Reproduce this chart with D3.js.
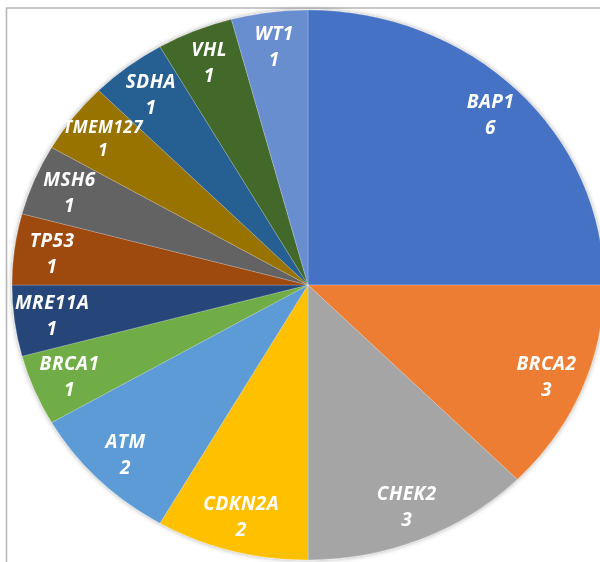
<!DOCTYPE html>
<html>
<head>
<meta charset="utf-8">
<script src="https://cdn.jsdelivr.net/npm/d3@7"></script>
<style>
html,body{margin:0;padding:0;background:#fff;}
svg{display:block;}
</style>
</head>
<body>
<svg id="chart" width="600" height="562"></svg>
<script>
const genes = ["BAP1","BRCA2","CHEK2","CDKN2A","ATM","BRCA1","MRE11A","TP53","MSH6","TMEM127","SDHA","VHL","WT1"];
const counts = [6,3,3,2,2,1,1,1,1,1,1,1,1];
const colors = ["#4472C4","#ED7D31","#A5A5A5","#FFC000","#5B9BD5","#70AD47","#264478","#9E480E","#636363","#997300","#255E91","#43682B","#698ED0"];

const W = 600, H = 562;
const cx = 308, cy = 285, rx = 296, ry = 275;
const labelFrac = 0.872;

const svg = d3.select("#chart");

// frame
svg.append("path")
  .attr("d", `M6.5,${H} L6.5,8 L${W},8`)
  .attr("fill","none").attr("stroke","#b7b7b7").attr("stroke-width",1.6);

const defs = svg.append("defs");
const f = defs.append("filter").attr("id","shadow").attr("x","-10%").attr("y","-10%").attr("width","120%").attr("height","120%");
f.append("feGaussianBlur").attr("in","SourceAlpha").attr("stdDeviation",2.5).attr("result","b");
f.append("feFlood").attr("flood-color","#000").attr("flood-opacity",0.35);
f.append("feComposite").attr("in2","b").attr("operator","in").attr("result","s");
const fm = f.append("feMerge");
fm.append("feMergeNode").attr("in","s");
fm.append("feMergeNode").attr("in","SourceGraphic");

const data = genes.map((g,i)=>({gene:g, value:counts[i], color:colors[i]}));
const pie = d3.pie().value(d=>d.value).sort(null);
const arcs = pie(data);

const arc = d3.arc().innerRadius(0).outerRadius(ry);
const labelArc = d3.arc().innerRadius(ry*labelFrac).outerRadius(ry*labelFrac);
const sx = rx/ry;

const g = svg.append("g").attr("transform",`translate(${cx},${cy})`);
const pieG = g.append("g").attr("filter","url(#shadow)");
pieG.selectAll("path.slice").data(arcs).enter().append("path")
  .attr("class","slice")
  .attr("transform",`scale(${sx},1)`)
  .attr("d",arc)
  .attr("fill",d=>d.data.color)
  .attr("stroke","rgba(255,255,255,0.35)")
  .attr("stroke-width",0.6)
  .attr("vector-effect","non-scaling-stroke");

const isLong = d => d.data.gene.length > 6;
const lab = g.selectAll("g.lab").data(arcs).enter().append("g")
  .attr("class","lab")
  .attr("transform",d=>{const c=labelArc.centroid(d); return `translate(${c[0]*sx},${c[1]})`;});
const styleText = sel => sel
  .attr("text-anchor","middle")
  .attr("font-family","'Open Sans', sans-serif")
  .attr("font-weight","bold").attr("font-style","italic")
  .attr("letter-spacing","0.5px")
  .attr("fill","#fff");
lab.append("text").call(styleText).attr("font-size",d=>isLong(d)?17:19).attr("y",d=>isLong(d)?-6:-7).text(d=>d.data.gene);
lab.append("text").call(styleText).attr("font-size",d=>isLong(d)?17:19).attr("y",d=>isLong(d)?17:19).text(d=>d.data.value);
</script>
</body>
</html>
